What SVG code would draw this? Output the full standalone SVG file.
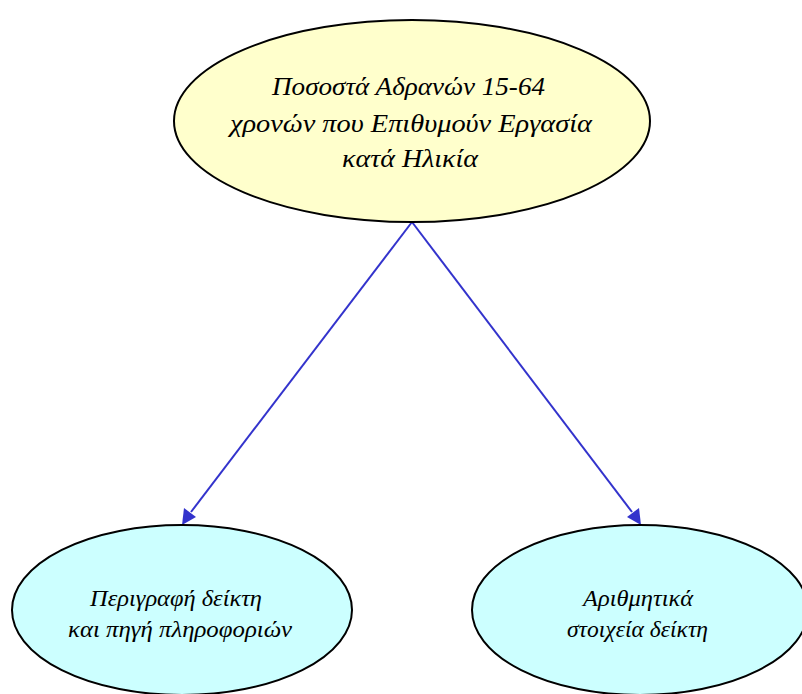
<svg xmlns="http://www.w3.org/2000/svg" width="802" height="694" viewBox="0 0 802 694">
<style>
.n{stroke:#000;stroke-width:2}
.t{font-family:"Liberation Serif",serif;font-style:italic;font-size:25px;fill:#000;text-anchor:middle}
.s{font-size:23px}
.e{stroke:#3333cc;stroke-width:2;fill:none}
.h{fill:#3333cc}
</style>
<rect width="802" height="694" fill="#fff"/>
<g id="edges">
<path class="e" d="M412,222 L191,512"/>
<path class="h" d="M182,525 L184,508 L196,517 z"/>
<path class="e" d="M412,222 L632,512"/>
<path class="h" d="M641,525 L627,517 L639,508 z"/>
</g>
<g id="n1">
<ellipse class="n" cx="412" cy="121" rx="238" ry="101" fill="#ffffcc"/>
<text class="t" x="408.5" y="95" textLength="273" lengthAdjust="spacingAndGlyphs">Ποσοστά Αδρανών 15-64</text>
<text class="t" x="411" y="132" textLength="362" lengthAdjust="spacingAndGlyphs">χρονών που Επιθυμούν Εργασία</text>
<text class="t" x="410" y="167" textLength="136" lengthAdjust="spacingAndGlyphs">κατά Ηλικία</text>
</g>
<g id="n2">
<ellipse class="n" cx="182" cy="610" rx="170" ry="85" fill="#ccffff"/>
<text class="t s" x="176" y="606" textLength="172" lengthAdjust="spacingAndGlyphs">Περιγραφή δείκτη</text>
<text class="t s" x="180" y="637" textLength="224" lengthAdjust="spacingAndGlyphs">και πηγή πληροφοριών</text>
</g>
<g id="n3">
<ellipse class="n" cx="640" cy="610" rx="168" ry="85" fill="#ccffff"/>
<text class="t s" x="638" y="606" textLength="110" lengthAdjust="spacingAndGlyphs">Αριθμητικά</text>
<text class="t s" x="637.5" y="637" textLength="141" lengthAdjust="spacingAndGlyphs">στοιχεία δείκτη</text>
</g>
</svg>
